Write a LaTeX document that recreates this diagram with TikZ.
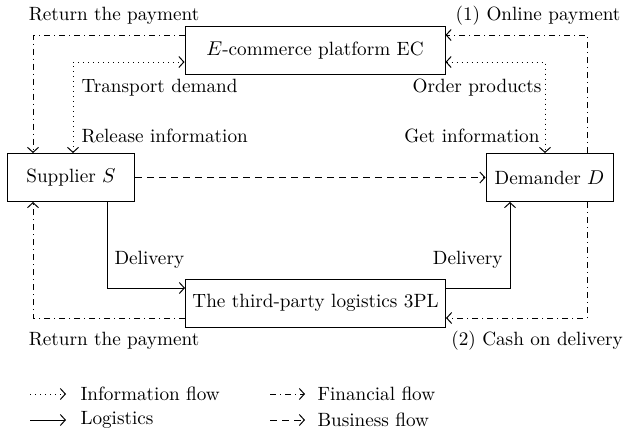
\documentclass[tikz,border=0pt]{standalone}
\usepackage{amsmath}
\usepackage{tikz}
\usetikzlibrary{positioning}
\usetikzlibrary{arrows.meta}
\usetikzlibrary{calc}

\begin{document}
\begin{tikzpicture}[
            > = {Straight Barb[length = 2.5pt, width = 5.5pt]}, % arrow head style
            x = 0.5pt, y = -0.5pt, % one unit per pixel of the sketch
            line width = 0.5pt, % line style
            font = \fontsize{9.6pt}{11pt}\selectfont
        ]

        \tikzstyle{box}=[
            draw,
            minimum height = 24pt,
            inner sep = 2pt
        ]
        \tikzstyle{lbl}=[inner sep = 1pt]
        \tikzstyle{info}=[dotted]
        \tikzstyle{fin}=[dash pattern = on 3pt off 2pt on 0.5pt off 2pt]
        \tikzstyle{logi}=[solid]
        \tikzstyle{biz}=[dash pattern = on 3.5pt off 2.5pt]

        \useasboundingbox (0,0) rectangle (626,436);

        % actors
        \node[box, minimum width = 63.5pt] (S) at (71,177.5) {Supplier $S$};
        \node[box, minimum width = 63.5pt] (D) at (549.5,177.5) {Demander $D$};
        \node[box, minimum width = 130pt] (EC) at (315,50.5) {$E$-commerce platform EC};
        \node[box, minimum width = 130pt] (TPL) at (315.5,303) {The third-party logistics 3PL};

        % business flow
        \path[biz,->] (S) edge node {} (D);

        % information flow
        \draw[info,<->] (73,0 |- S.north) |- (EC.west |- 0,62);
        \draw[info,<->] (EC.east |- 0,62) -| (545,0 |- D.north);
        \node[lbl, anchor = west] (TD) at (79,88) {Transport demand};
        \node[lbl, anchor = west] (RI) at (79,136) {Release information};
        \node[lbl, anchor = east] (OP) at (544,88) {Order products};
        \node[lbl, anchor = east] (GI) at (542,136) {Get information};

        % financial flow
        \draw[fin,->] (EC.west |- 0,35) -| (33,0 |- S.north);
        \draw[fin,->] (587,0 |- D.north) |- (EC.east |- 0,35);
        \draw[fin,->] (587,0 |- D.south) |- (TPL.east |- 0,318);
        \draw[fin,->] (TPL.west |- 0,318) -| (33,0 |- S.south);
        \node[lbl] (RT) at (114,16) {Return the payment};
        \node[lbl] (OL) at (538,16) {(1) Online payment};
        \node[lbl] (RB) at (114,341) {Return the payment};
        \node[lbl] (CD) at (537,341) {(2) Cash on delivery};

        % logistics
        \draw[logi,->] (107,0 |- S.south) |- (TPL.west |- 0,288);
        \draw[logi,->] (TPL.east |- 0,288) -| (510,0 |- D.south);
        \node[lbl, anchor = west] (DL) at (112,260) {Delivery};
        \node[lbl, anchor = east] (DR) at (505,260) {Delivery};

        % legend
        \node[lbl, anchor = west] (LI) at (78,394) {Information flow};
        \node[lbl, anchor = west] (LL) at (78,420) {Logistics};
        \node[lbl, anchor = west] (LF) at (315,394) {Financial flow};
        \node[lbl, anchor = west] (LB) at (315,420) {Business flow};
        \draw[info,->] (30,0 |- LI.west) -- ([xshift = -6pt]LI.west);
        \draw[logi,->] (30,0 |- LL.west) -- ([xshift = -6pt]LL.west);
        \draw[fin,->] (270,0 |- LF.west) -- ([xshift = -5pt]LF.west);
        \draw[biz,->] (270,0 |- LB.west) -- ([xshift = -5pt]LB.west);

  \end{tikzpicture}
\end{document}
